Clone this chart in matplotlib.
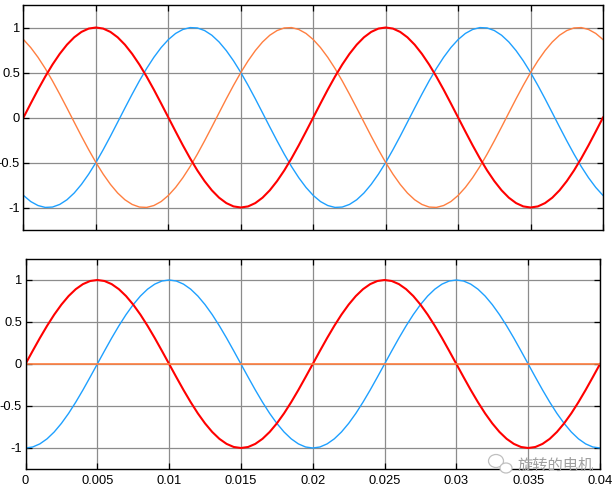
import numpy as np
import matplotlib.pyplot as plt
from matplotlib.patches import Ellipse

# sample grid: 0 .. 0.04 s, one sample every 0.5 ms
t = np.linspace(0, 0.04, 81)

# top panel: three phase currents
phase_a = [0, 0.156, 0.309, 0.454, 0.588, 0.707, 0.809, 0.891, 0.951, 0.988,
           1, 0.988, 0.951, 0.891, 0.809, 0.707, 0.588, 0.454, 0.309, 0.156,
           0, -0.156, -0.309, -0.454, -0.588, -0.707, -0.809, -0.891, -0.951, -0.988,
           -1, -0.988, -0.951, -0.891, -0.809, -0.707, -0.588, -0.454, -0.309, -0.156,
           0, 0.156, 0.309, 0.454, 0.588, 0.707, 0.809, 0.891, 0.951, 0.988,
           1, 0.988, 0.951, 0.891, 0.809, 0.707, 0.588, 0.454, 0.309, 0.156,
           0, -0.156, -0.309, -0.454, -0.588, -0.707, -0.809, -0.891, -0.951, -0.988,
           -1, -0.988, -0.951, -0.891, -0.809, -0.707, -0.588, -0.454, -0.309, -0.156,
           0]
phase_b = [-0.866, -0.934, -0.978, -0.999, -0.995, -0.966, -0.914, -0.839, -0.743, -0.629,
           -0.5, -0.358, -0.208, -0.052, 0.105, 0.259, 0.407, 0.545, 0.669, 0.777,
           0.866, 0.934, 0.978, 0.999, 0.995, 0.966, 0.914, 0.839, 0.743, 0.629,
           0.5, 0.358, 0.208, 0.052, -0.105, -0.259, -0.407, -0.545, -0.669, -0.777,
           -0.866, -0.934, -0.978, -0.999, -0.995, -0.966, -0.914, -0.839, -0.743, -0.629,
           -0.5, -0.358, -0.208, -0.052, 0.105, 0.259, 0.407, 0.545, 0.669, 0.777,
           0.866, 0.934, 0.978, 0.999, 0.995, 0.966, 0.914, 0.839, 0.743, 0.629,
           0.5, 0.358, 0.208, 0.052, -0.105, -0.259, -0.407, -0.545, -0.669, -0.777,
           -0.866]
phase_c = [0.866, 0.777, 0.669, 0.545, 0.407, 0.259, 0.105, -0.052, -0.208, -0.358,
           -0.5, -0.629, -0.743, -0.839, -0.914, -0.966, -0.995, -0.999, -0.978, -0.934,
           -0.866, -0.777, -0.669, -0.545, -0.407, -0.259, -0.105, 0.052, 0.208, 0.358,
           0.5, 0.629, 0.743, 0.839, 0.914, 0.966, 0.995, 0.999, 0.978, 0.934,
           0.866, 0.777, 0.669, 0.545, 0.407, 0.259, 0.105, -0.052, -0.208, -0.358,
           -0.5, -0.629, -0.743, -0.839, -0.914, -0.966, -0.995, -0.999, -0.978, -0.934,
           -0.866, -0.777, -0.669, -0.545, -0.407, -0.259, -0.105, 0.052, 0.208, 0.358,
           0.5, 0.629, 0.743, 0.839, 0.914, 0.966, 0.995, 0.999, 0.978, 0.934,
           0.866]

# bottom panel: alpha / beta / zero components
alpha = phase_a
beta = [-1, -0.988, -0.951, -0.891, -0.809, -0.707, -0.588, -0.454, -0.309, -0.156,
        0, 0.156, 0.309, 0.454, 0.588, 0.707, 0.809, 0.891, 0.951, 0.988,
        1, 0.988, 0.951, 0.891, 0.809, 0.707, 0.588, 0.454, 0.309, 0.156,
        0, -0.156, -0.309, -0.454, -0.588, -0.707, -0.809, -0.891, -0.951, -0.988,
        -1, -0.988, -0.951, -0.891, -0.809, -0.707, -0.588, -0.454, -0.309, -0.156,
        0, 0.156, 0.309, 0.454, 0.588, 0.707, 0.809, 0.891, 0.951, 0.988,
        1, 0.988, 0.951, 0.891, 0.809, 0.707, 0.588, 0.454, 0.309, 0.156,
        0, -0.156, -0.309, -0.454, -0.588, -0.707, -0.809, -0.891, -0.951, -0.988,
        -1]
zero_seq = [0.0] * len(t)

x_ticks = [0, 0.005, 0.01, 0.015, 0.02, 0.025, 0.03, 0.035, 0.04]
x_labels = ["0", "0.005", "0.01", "0.015", "0.02", "0.025", "0.03", "0.035", "0.04"]
y_ticks = [-1, -0.5, 0, 0.5, 1]
y_labels = ["-1", "-0.5", "0", "0.5", "1"]

RED = "#ff0000"
BLUE = "#1ea0ff"
ORANGE = "#ff7f40"

plt.rcParams["font.family"] = ["Liberation Sans", "DejaVu Sans"]
plt.rcParams["font.size"] = 9.3

fig = plt.figure(figsize=(6.15, 4.95), dpi=100)
ax1 = fig.add_axes([23.5 / 615, 1 - 230 / 495, (603 - 23.5) / 615, 225 / 495])
ax2 = fig.add_axes([25.5 / 615, 1 - 469 / 495, (600 - 25.5) / 615, 210 / 495])

ax1.plot(t, phase_b, color=BLUE, lw=1.0)
ax1.plot(t, phase_c, color=ORANGE, lw=1.0)
ax1.plot(t, phase_a, color=RED, lw=1.5)

ax2.plot(t, beta, color=BLUE, lw=1.0)
ax2.plot(t, alpha, color=RED, lw=1.5)
ax2.plot(t, zero_seq, color=ORANGE, lw=1.2)

for ax in (ax1, ax2):
    ax.set_xlim(0, 0.04)
    ax.set_ylim(-1.25, 1.25)
    ax.set_xticks(x_ticks)
    ax.set_yticks(y_ticks)
    ax.set_yticklabels(y_labels)
    ax.grid(True, color="#8c8c8c", lw=0.9)
    ax.set_axisbelow(True)
    ax.tick_params(direction="in", top=True, right=True, length=4, width=0.9,
                   colors="black")
    ax.tick_params(axis="x", pad=4.5)
    ax.tick_params(axis="y", pad=2.5)
    for s in ax.spines.values():
        s.set_linewidth(1.0)

ax1.set_xticklabels([])
ax2.set_xticklabels(x_labels)

# watermark (wechat-style icon + account name)
fig.text(0.965, 1 - 465 / 495, "旋转的电机", ha="right", va="center", fontsize=11,
         color="#a0a0a0", family=["Noto Sans CJK SC", "DejaVu Sans"])
fig.add_artist(Ellipse((496 / 615, 1 - 461 / 495), 15 / 615, 13 / 495,
                       transform=fig.transFigure, fill=False, ec="#c0c0c0", lw=0.9))
fig.add_artist(Ellipse((506 / 615, 1 - 468 / 495), 12 / 615, 10 / 495,
                       transform=fig.transFigure, fc="white", ec="#c0c0c0", lw=0.9))

fig.savefig("out.png", dpi=100)
